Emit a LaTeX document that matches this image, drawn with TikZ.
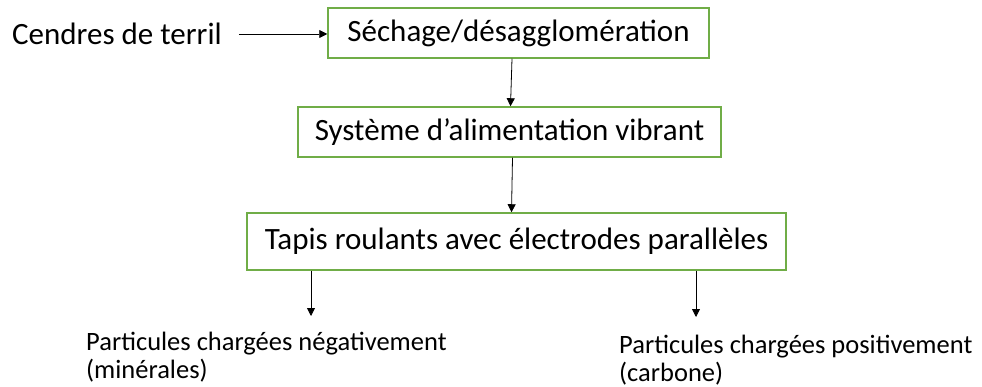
\documentclass[tikz,border=0pt]{standalone}
\usepackage{fontspec}
\setmainfont{Carlito}
\usetikzlibrary{arrows.meta}
\definecolor{boxgreen}{HTML}{70AD47}
\begin{document}
\begin{tikzpicture}[x=1pt,y=-1pt,
  stepbox/.style={draw=boxgreen, line width=1.5pt, fill=white, inner sep=0pt,
    font=\fontsize{31}{37}\selectfont},
  flow/.style={-{Triangle[length=8pt,width=8pt]}, line width=0.8pt},
  inlabel/.style={inner sep=0pt, font=\fontsize{31}{37}\selectfont},
  outlabel/.style={inner sep=0pt, align=left, font=\fontsize{26.5}{28}\selectfont}]
\useasboundingbox (0,0) rectangle (982,387);

% process steps
\node[stepbox, minimum width=381pt, minimum height=50pt] (dry)  at (518.5,33)  {Séchage/désagglomération};
\node[stepbox, minimum width=423pt, minimum height=50pt] (feed) at (509.5,132) {Système d’alimentation vibrant};
\node[stepbox, minimum width=539pt, minimum height=57pt] (belt) at (516.5,241.5) {Tapis roulants avec électrodes parallèles};

% input material
\node[inlabel, anchor=west] (ash) at (12,34) {Cendres de terril};

% output fractions
\node[outlabel, anchor=north west] (neg) at (86,332) {Particules chargées négativement\\(minérales)};
\node[outlabel, anchor=north west] (pos) at (619,335) {Particules chargées positivement\\(carbone)};

% connector end points
\coordinate (negtip) at (311,316);
\coordinate (postip) at (696,317);

\draw[flow] ([xshift=17pt]ash.east) -- (ash.east -| dry.west);
\draw[flow] ([xshift=-6.5pt]dry.south) -- ([xshift=1pt]feed.north);
\draw[flow] ([xshift=3pt]feed.south) -- ([xshift=-5pt]belt.north);
\draw[flow] (belt.south -| negtip) -- (negtip);
\draw[flow] (belt.south -| postip) -- (postip);
\end{tikzpicture}
\end{document}
